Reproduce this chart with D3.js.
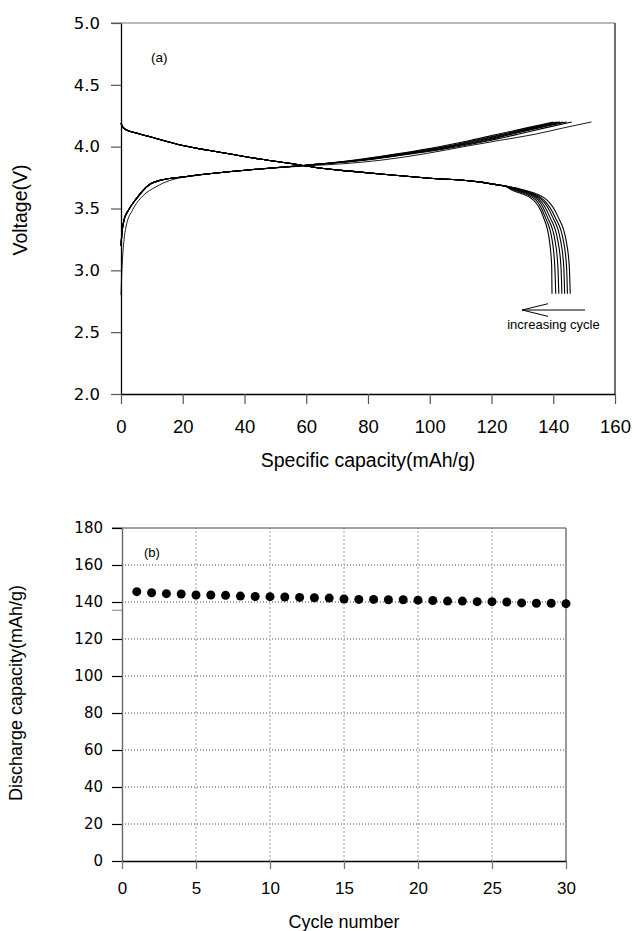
<!DOCTYPE html>
<html><head><meta charset="utf-8">
<script src="https://cdn.jsdelivr.net/npm/d3@7/dist/d3.min.js"></script>
<style>body{margin:0;background:#fff}svg{display:block}</style>
</head><body>
<svg id="c" width="634" height="931"></svg>
<script>
// ---------- data: panel (a) ----------
const capacityTicks = [0, 20, 40, 60, 80, 100, 120, 140, 160];
const voltageTicks = [2.0, 2.5, 3.0, 3.5, 4.0, 4.5, 5.0];

// discharge: shared body [capacity, voltage]
const dischargeBody = [[0,4.19],[0.5,4.16],[1.8,4.135],[5,4.11],[9.4,4.08],[20,4.01],[32,3.955],[45,3.9],[56,3.86],[65,3.825],[75,3.80],[84,3.779],[100,3.745],[116,3.715],[121,3.695]];
// discharge tails, one per plotted cycle
const dischargeTailA = [[125.0,3.68],[130.5,3.65],[137.9,3.57],[141.6,3.43],[144.1,3.25],[145.2,3.03],[145.5,2.81]];
const dischargeTailB = [[124.9,3.68],[130.0,3.65],[136.9,3.57],[140.6,3.43],[143.2,3.25],[144.3,3.03],[144.6,2.81]];
const dischargeTailC = [[124.8,3.68],[129.4,3.65],[136.3,3.57],[139.8,3.43],[142.3,3.25],[143.4,3.03],[143.7,2.81]];
const dischargeTailD = [[124.7,3.68],[128.8,3.65],[135.6,3.57],[138.9,3.43],[141.4,3.25],[142.5,3.03],[142.8,2.81]];
const dischargeTailE = [[124.6,3.68],[128.1,3.65],[135.0,3.57],[138.1,3.43],[140.5,3.25],[141.5,3.03],[141.8,2.81]];
const dischargeTailF = [[124.5,3.68],[127.4,3.65],[134.3,3.57],[137.4,3.43],[139.6,3.25],[140.5,3.03],[140.8,2.81]];
const dischargeTailG = [[124.4,3.68],[126.6,3.65],[133.5,3.57],[136.8,3.43],[138.7,3.25],[139.5,3.03],[139.6,2.81]];

// charge: shared lower part of later cycles
const chargeLow = [[0,3.20],[0.3,3.30],[1,3.41],[2.5,3.49],[5,3.58],[9,3.69],[13,3.73],[20,3.755],[30,3.785],[45,3.82],[60,3.85]];
const chargeHigh1 = [[75,3.89],[90,3.945],[103,4.00],[113,4.05],[122,4.10],[131,4.15],[140.0,4.20]];
const chargeHigh2 = [[76,3.89],[91,3.945],[104.5,4.00],[114.5,4.05],[123.5,4.10],[132,4.15],[141.1,4.20]];
const chargeHigh3 = [[77,3.89],[92,3.945],[105.5,4.00],[115.5,4.05],[124.5,4.10],[133,4.15],[142.2,4.20]];
const chargeHigh4 = [[77.5,3.89],[93,3.945],[106.5,4.00],[117,4.05],[125.5,4.10],[134,4.15],[143.2,4.20]];
const chargeHigh5 = [[78,3.89],[94,3.945],[107.5,4.00],[118,4.05],[126.5,4.10],[135,4.15],[144.3,4.20]];
const chargeHigh6 = [[79,3.89],[95,3.945],[109,4.00],[119.5,4.05],[128.5,4.10],[137,4.15],[146.0,4.20]];
// first charge (thin curve)
const firstCharge = [[0,2.80],[0.2,2.95],[0.5,3.10],[1,3.25],[1.6,3.35],[3.8,3.49],[7,3.60],[11.3,3.675],[15.6,3.725],[24,3.765],[36,3.80],[48,3.825],[60,3.845],[72,3.862],[84,3.89],[99,3.945],[111,4.00],[122.5,4.05],[134,4.10],[143,4.15],[152.4,4.20]];

// ---------- data: panel (b) ----------
const cycleTicks = [0, 5, 10, 15, 20, 25, 30];
const capTicksB = [0, 20, 40, 60, 80, 100, 120, 140, 160, 180];
const cycles = [1,2,3,4,5,6,7,8,9,10,11,12,13,14,15,16,17,18,19,20,21,22,23,24,25,26,27,28,29,30];
const dischargeCapacity = [145.6,145.0,144.5,144.3,143.8,143.8,143.6,143.2,143.0,142.9,142.7,142.5,142.3,142.1,141.6,141.4,141.4,141.2,141.2,141.0,140.8,140.5,140.5,140.2,140.2,140.0,139.5,139.3,139.3,139.1];

// ---------- drawing ----------
const FONT = "'Liberation Sans', Arial, sans-serif";
const FONT_Y = "'DejaVu Sans', Verdana, sans-serif";
const svg = d3.select('#c');
svg.append('rect').attr('width',634).attr('height',931).attr('fill','#fff');

// ===== panel (a) =====
const x1 = d3.scaleLinear().domain([0,160]).range([121,615]);
const y1 = d3.scaleLinear().domain([2,5]).range([394,23]);

svg.append('line').attr('x1',x1(0)-10).attr('x2',x1(160)).attr('y1',y1(5)).attr('y2',y1(5))
  .attr('stroke','#777').attr('stroke-width',1.2);
svg.append('line').attr('x1',x1(160)).attr('x2',x1(160)).attr('y1',y1(5)).attr('y2',y1(2))
  .attr('stroke','#111').attr('stroke-width',1.2);

const ga = svg.append('g').attr('transform',`translate(${x1(0)},0)`)
  .call(d3.axisLeft(y1).tickValues(voltageTicks).tickFormat(d3.format('.1f')).tickSize(10).tickPadding(11).tickSizeOuter(0));
ga.select('.domain').attr('stroke','#000').attr('stroke-width',1.3);
ga.selectAll('.tick line').attr('stroke','#555').attr('stroke-width',1.2);
ga.selectAll('.tick text').attr('font-family',FONT_Y).attr('font-size','16.5px').attr('fill','#000');

const gb = svg.append('g').attr('transform',`translate(0,${y1(2)})`)
  .call(d3.axisBottom(x1).tickValues(capacityTicks).tickSize(10).tickPadding(16).tickSizeOuter(0));
gb.select('.domain').attr('stroke','#000').attr('stroke-width',1.3);
gb.selectAll('.tick line').attr('stroke','#555').attr('stroke-width',1.2);
gb.selectAll('.tick text').attr('font-family',FONT).attr('font-size','18.5px').attr('fill','#000');

const line1 = d3.line().x(d=>x1(d[0])).y(d=>y1(d[1])).curve(d3.curveMonotoneX);
const curves = svg.append('g').attr('fill','none').attr('stroke','#000');
[dischargeTailA,dischargeTailB,dischargeTailC,dischargeTailD,dischargeTailE,dischargeTailF,dischargeTailG].forEach(t=>{
  curves.append('path').attr('d',line1(dischargeBody.concat(t))).attr('stroke-width',1.1);
});
[chargeHigh1,chargeHigh2,chargeHigh3,chargeHigh4,chargeHigh5,chargeHigh6].forEach(h=>{
  curves.append('path').attr('d',line1(chargeLow.concat(h))).attr('stroke-width',1.1);
});
curves.append('path').attr('d',line1(firstCharge)).attr('stroke-width',0.9);

// arrow annotation
const arrowShaft = [[150.3,2.679],[129.9,2.679]];
const arrowHead = [[138.3,2.73],[129.9,2.679],[138.3,2.628]];
const lin = d3.line().x(d=>x1(d[0])).y(d=>y1(d[1]));
svg.append('path').attr('d',lin(arrowShaft)).attr('fill','none').attr('stroke','#000').attr('stroke-width',1);
svg.append('path').attr('d',lin(arrowHead)).attr('fill','none').attr('stroke','#000').attr('stroke-width',1);
svg.append('text').attr('x',x1(125.1)).attr('y',y1(2.526)).attr('font-family',FONT).attr('font-size','13px').text('increasing cycle');

svg.append('text').attr('x',151).attr('y',62).attr('font-family',FONT).attr('font-size','13.5px').text('(a)');
svg.append('text').attr('x',368).attr('y',467).attr('text-anchor','middle').attr('font-family',FONT).attr('font-size','19.5px').text('Specific capacity(mAh/g)');
svg.append('text').attr('transform','translate(27,210) rotate(-90)').attr('text-anchor','middle').attr('font-family',FONT).attr('font-size','19.5px').text('Voltage(V)');

// ===== panel (b) =====
const x2 = d3.scaleLinear().domain([0,30]).range([122,566]);
const y2 = d3.scaleLinear().domain([0,180]).range([861,528]);

const grid = svg.append('g');
capTicksB.filter(v=>v>0 && v<180).forEach(v=>{
  grid.append('line').attr('x1',x2(0)).attr('x2',x2(30)).attr('y1',y2(v)).attr('y2',y2(v))
    .attr('stroke','#444').attr('stroke-width',1).attr('stroke-dasharray','1,2');
});
cycleTicks.filter(v=>v>0 && v<30).forEach(v=>{
  grid.append('line').attr('x1',x2(v)).attr('x2',x2(v)).attr('y1',y2(0)).attr('y2',y2(180))
    .attr('stroke','#bbb').attr('stroke-width',1.4).attr('stroke-dasharray','2,2');
});
svg.append('line').attr('x1',x2(0)-10).attr('x2',x2(30)).attr('y1',y2(180)).attr('y2',y2(180))
  .attr('stroke','#444').attr('stroke-width',1.2);
svg.append('line').attr('x1',x2(30)).attr('x2',x2(30)).attr('y1',y2(180)).attr('y2',y2(0))
  .attr('stroke','#777').attr('stroke-width',1.5);
svg.append('line').attr('x1',x2(0)-10).attr('x2',x2(0)).attr('y1',y2(135.5)).attr('y2',y2(135.5))
  .attr('stroke','#999').attr('stroke-width',1.2);

const gc = svg.append('g').attr('transform',`translate(${x2(0)},0)`)
  .call(d3.axisLeft(y2).tickValues(capTicksB).tickSize(10).tickPadding(9).tickSizeOuter(0));
gc.select('.domain').attr('stroke','#666').attr('stroke-width',1.4);
gc.selectAll('.tick line').attr('stroke','#000').attr('stroke-width',1.2);
gc.selectAll('.tick text').attr('font-family',FONT_Y).attr('font-size','15px').attr('fill','#000');

const gd = svg.append('g').attr('transform',`translate(0,${y2(0)})`)
  .call(d3.axisBottom(x2).tickValues(cycleTicks).tickSize(8).tickPadding(13).tickSizeOuter(0));
gd.select('.domain').attr('stroke','#000').attr('stroke-width',1.3);
gd.selectAll('.tick line').attr('stroke','#777').attr('stroke-width',1.3);
gd.selectAll('.tick text').attr('font-family',FONT).attr('font-size','17px').attr('fill','#000');

svg.append('g').selectAll('circle').data(cycles).join('circle')
  .attr('cx',(d)=>x2(d)).attr('cy',(d,i)=>y2(dischargeCapacity[i])).attr('r',4.5).attr('fill','#000');

svg.append('text').attr('x',144).attr('y',557).attr('font-family',FONT).attr('font-size','13px').text('(b)');
svg.append('text').attr('x',344).attr('y',928).attr('text-anchor','middle').attr('font-family',FONT).attr('font-size','18px').text('Cycle number');
svg.append('text').attr('transform','translate(22,693) rotate(-90)').attr('text-anchor','middle').attr('font-family',FONT).attr('font-size','18px').text('Discharge capacity(mAh/g)');
</script>
</body></html>
